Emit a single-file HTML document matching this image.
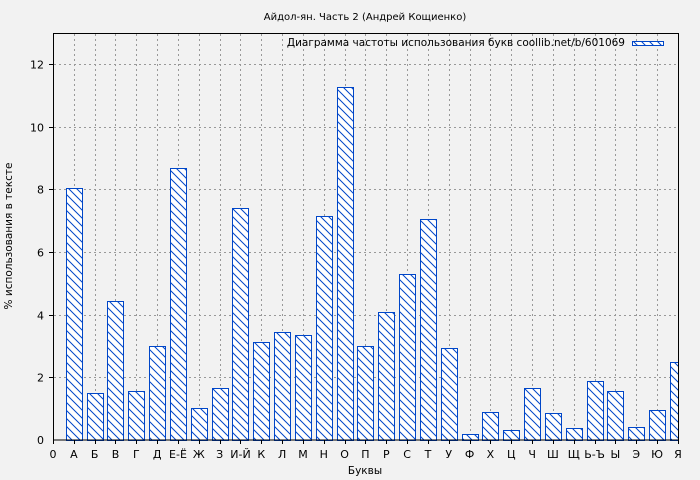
<!DOCTYPE html>
<html><head><meta charset="utf-8"><style>
html,body{margin:0;padding:0;background:#f2f2f2;}
svg{display:block;font-family:"DejaVu Sans","Liberation Sans",sans-serif;}
</style></head><body>
<svg width="700" height="480" xmlns="http://www.w3.org/2000/svg">
<defs>
<pattern id="h" patternUnits="userSpaceOnUse" width="8" height="8">
<rect width="8" height="8" fill="#fff"/>
<path d="M0,0 L8,8 M-1,7 L1,9 M7,-1 L9,1" stroke="#0046c8" stroke-width="1"/>
</pattern>
<clipPath id="c"><rect x="53" y="33" width="626" height="408"/></clipPath>
</defs>
<rect width="700" height="480" fill="#f2f2f2"/>
<text x="365" y="20" font-size="10" text-anchor="middle" fill="#000">Айдол-ян. Часть 2 (Андрей Кощиенко)</text>
<g id="grid" stroke="#999" stroke-dasharray="2,3" stroke-width="1"></g>
<g id="bars" clip-path="url(#c)"></g>
<rect x="53.5" y="33.5" width="625" height="406.5" fill="none" stroke="#000"/>
<g id="ax" font-size="11" fill="#000"></g>
<text x="625" y="46" font-size="10.5" text-anchor="end">Диаграмма частоты использования букв coollib.net/b/601069</text>
<rect x="632.5" y="41.5" width="31" height="4" fill="url(#h)" stroke="#0046c8"/>
<text x="365" y="474" font-size="10.5" text-anchor="middle">Буквы</text>
<text transform="translate(12,236) rotate(-90)" font-size="10.5" text-anchor="middle">% использования в тексте</text>
<script>
var ns="http://www.w3.org/2000/svg";
function el(t,a,p,txt){var e=document.createElementNS(ns,t);for(var k in a)e.setAttribute(k,a[k]);if(txt!=null)e.textContent=txt;document.getElementById(p).appendChild(e);}
var L=["0","А","Б","В","Г","Д","Е-Ё","Ж","З","И-Й","К","Л","М","Н","О","П","Р","С","Т","У","Ф","Х","Ц","Ч","Ш","Щ","Ь-Ъ","Ы","Э","Ю","Я"];
var V=[0,8.05,1.5,4.43,1.55,3.0,8.68,1.03,1.65,7.4,3.12,3.45,3.35,7.15,11.27,3.0,4.1,5.3,7.05,2.93,0.2,0.9,0.33,1.65,0.85,0.37,1.87,1.55,0.4,0.95,2.5];
var dx=20.83,y0=440,sy=31.33;
for(var i=1;i<=30;i++){var x=Math.round(53+dx*i)+0.5;el("line",{x1:x,y1:34,x2:x,y2:440},"grid");}
for(var j=1;j<=6;j++){var y=Math.round(y0-2*j*sy)+0.5;el("line",{x1:54,y1:y,x2:678,y2:y},"grid");
el("line",{x1:49,y1:y,x2:53,y2:y,stroke:"#000"},"ax");el("text",{x:44,y:y+4,"text-anchor":"end"},"ax",String(2*j));}
el("text",{x:44,y:444,"text-anchor":"end"},"ax","0");
for(var i=0;i<=30;i++){var x=53+dx*i;
el("line",{x1:Math.round(x)+0.5,y1:440,x2:Math.round(x)+0.5,y2:444,stroke:"#000"},"ax");
el("text",{x:x,y:458,"text-anchor":"middle"},"ax",L[i]);
if(i>0){var h=V[i]*sy;el("rect",{x:Math.round(x-8)+0.5,y:Math.round(y0-h)+0.5,width:16,height:Math.round(h),fill:"url(#h)",stroke:"#0046c8","stroke-width":1},"bars");}}
</script>
</svg>
</body></html>
